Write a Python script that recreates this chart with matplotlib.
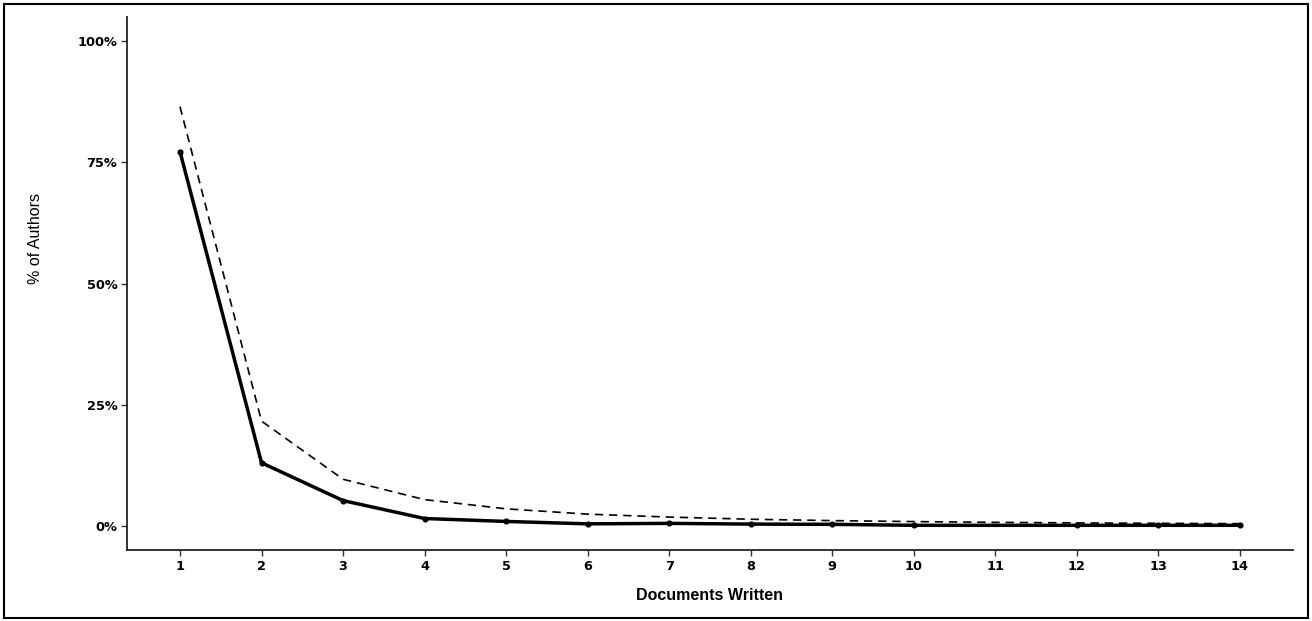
import matplotlib
matplotlib.use("Agg")
import matplotlib.pyplot as plt
from matplotlib.patches import Rectangle
from matplotlib.ticker import FuncFormatter

# observed share of authors (solid) - no author wrote 11 documents
docs = [1, 2, 3, 4, 5, 6, 7, 8, 9, 10, 12, 13, 14]
observed = [77.2, 13.0, 5.2, 1.5, 0.9, 0.4, 0.5, 0.35, 0.3, 0.1, 0.1, 0.1, 0.1]

# theoretical (Lotka) share (dashed)
docs_theo = [1, 2, 3, 4, 5, 6, 7, 8, 9, 10, 11, 12, 13, 14]
theoretical = [86.5, 21.6, 9.6, 5.4, 3.5, 2.4, 1.8, 1.35, 1.07, 0.87, 0.71, 0.6, 0.51, 0.44]

x_ticks = list(range(1, 15))
y_ticks = [0, 25, 50, 75, 100]

plt.rcParams['font.family'] = ['Liberation Sans', 'DejaVu Sans']

fig = plt.figure(figsize=(13.12, 6.21), dpi=100)
ax = fig.add_axes([0.0968, 0.1143, 0.8887, 0.8583])

ax.plot(docs_theo, theoretical, color="black", linestyle=(0, (5, 3.5)), linewidth=1.2)
ax.plot(docs, observed, color="black", linewidth=2.5, marker="o", markersize=3.4)

ax.set_xlim(0.35, 14.65)
ax.set_ylim(-5, 105)
ax.set_xticks(x_ticks)
ax.set_yticks(y_ticks)
ax.yaxis.set_major_formatter(FuncFormatter(lambda v, p: f"{v:.0f}%"))

for s in ["top", "right"]:
    ax.spines[s].set_visible(False)
for s in ["left", "bottom"]:
    ax.spines[s].set_linewidth(1.3)
    ax.spines[s].set_color("#222222")

ax.tick_params(length=4, width=1, color="#333333", labelsize=9.3, pad=3)
for lab in ax.get_xticklabels() + ax.get_yticklabels():
    lab.set_fontweight("bold")
    lab.set_family("DejaVu Sans")

ax.set_xlabel("Documents Written", fontsize=11.5, fontweight="bold", labelpad=11)
ax.set_ylabel("% of Authors", fontsize=11.5)
ax.yaxis.set_label_coords(-0.072, 0.585)

# border around the whole picture
fig.patches.append(Rectangle((0.003, 0.005), 0.994, 0.988, transform=fig.transFigure,
                             fill=False, edgecolor="black", linewidth=1.5))

fig.savefig("out.png", dpi=100)
